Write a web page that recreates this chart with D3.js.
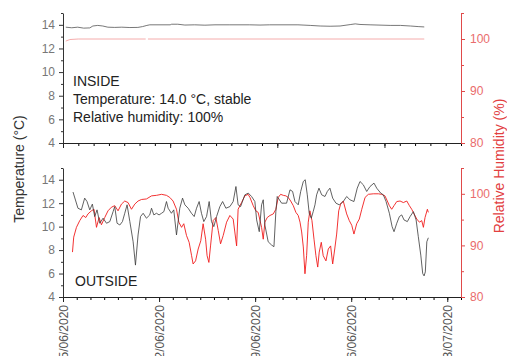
<!DOCTYPE html>
<html>
<head>
<meta charset="utf-8">
<script src="https://cdn.jsdelivr.net/npm/d3@7"></script>
<style>
  body { margin: 0; background: #fff; }
  svg { display: block; font-family: "Liberation Sans", Arial, sans-serif; }
</style>
</head>
<body>
<svg id="chart" width="507" height="356"></svg>
<script>
// tick labels
const dateTicks = ["05/06/2020", "12/06/2020", "19/06/2020", "26/06/2020", "03/07/2020"]
const tempTicks = [4, 6, 8, 10, 12, 14]
const rhTicks = [80, 90, 100]
const tempDomain = [4, 15]
const rhDomain = [80, 105]

// inside logger (own time axis, no labels)
const insideStart = "09/06/2020", insideEnd = "05/07/2020"
const insideDays = [0.18, 0.57, 0.96, 1.35, 1.75, 1.95, 2.27, 2.6, 2.93, 3.38,
    3.84, 4.37, 4.89, 5.2, 5.48, 5.67, 7.0, 7.1, 7.5, 7.96,
    8.6, 9.27, 9.93, 10.9, 12.2, 12.87, 13.5, 15.35, 16.15, 16.8,
    17.45, 18.1, 18.76, 19.09, 19.4, 20.06, 21.37, 22.04, 22.7, 23.2, 23.6]
const insideTemp = [13.8, 13.75, 13.8, 13.72, 13.74, 13.9, 13.95, 13.9, 13.8, 13.78,
    13.8, 13.77, 13.78, 13.85, 13.95, 14.0, 14.0, 14.05, 14.05, 13.98,
    14.0, 13.97, 14.0, 14.0, 14.0, 13.98, 14.0, 14.0, 13.95, 13.9,
    13.88, 13.9, 14.02, 14.08, 14.03, 14.0, 13.95, 13.95, 13.9, 13.85, 13.82]
const insideRhDays = [0.18, 0.45, 1.0, 5.4, 5.45, 5.55, 23.6]
const insideRh = [99.6, 99.9, 100, 100, null, 100, 100]

// outside logger
const outsideStart = "05/06/2020", outsideEnd = "04/07/2020"
const outTempDays = [0.73, 1.09, 1.34, 1.58, 1.75, 1.95, 2.14, 2.31, 2.48, 2.68,
    2.92, 3.17, 3.41, 3.65, 3.77, 3.94, 4.14, 4.33, 4.5, 4.67,
    4.87, 5.11, 5.28, 5.47, 5.65, 5.84, 6.08, 6.32, 6.45, 6.62,
    6.81, 7.0, 7.18, 7.35, 7.54, 7.66, 7.9, 8.07, 8.27, 8.51,
    8.71, 8.88, 9.12, 9.36, 9.56, 9.73, 9.92, 10.09, 10.26, 10.46,
    10.65, 10.82, 10.99, 11.19, 11.43, 11.63, 11.87, 12.16, 12.4, 12.6,
    12.76, 12.94, 13.25, 13.5, 13.74, 13.98, 14.11, 14.3, 14.47, 14.59,
    14.71, 14.95, 15.2, 15.37, 15.51, 15.61, 15.93, 16.29, 16.54, 16.73,
    16.9, 17.14, 17.32, 17.51, 17.65, 17.8, 17.94, 18.09, 18.23, 18.36,
    18.48, 18.65, 18.85, 19.09, 19.26, 19.45, 19.65, 19.89, 20.13, 20.42,
    20.67, 20.91, 21.2, 21.44, 21.64, 21.88, 22.13, 22.37, 22.66, 22.86,
    23.15, 23.34, 23.54, 23.78, 23.98, 24.12, 24.32, 24.51, 24.68, 24.85,
    25.09, 25.29, 25.53, 25.73, 25.89, 26.07, 26.21, 26.31, 26.4, 26.51, 26.62]
const outTemp = [12.95, 11.57, 11.43, 12.43, 12.14, 11.43, 11.92, 10.86, 11.43, 10.29,
    10.72, 10.29, 10.43, 11.28, 11.71, 10.29, 10.14, 10.43, 11.14, 11.86,
    10.43, 8.71, 6.72, 9.29, 10.86, 11.14, 10.72, 11.0, 11.57, 11.0,
    11.14, 11.0, 11.14, 11.28, 12.14, 11.57, 11.14, 11.43, 9.29, 11.57,
    12.43, 11.86, 11.57, 11.14, 10.86, 11.57, 12.14, 11.14, 10.43, 10.86,
    12.14, 10.43, 10.0, 10.86, 11.71, 12.14, 11.57, 11.71, 12.14, 13.42,
    11.86, 11.71, 12.71, 12.86, 12.57, 12.14, 10.57, 9.57, 11.86, 12.29,
    10.14, 8.71, 8.43, 8.29, 11.28, 12.57, 12.0, 12.0, 13.14, 13.0,
    12.14, 11.86, 13.0, 13.85, 14.0, 12.71, 11.14, 10.72, 11.28, 11.86,
    12.71, 13.28, 12.71, 12.57, 13.0, 13.28, 12.43, 12.0, 11.86, 12.14,
    12.57, 12.29, 12.14, 13.28, 13.85, 13.57, 13.0, 13.42, 13.71, 13.28,
    12.86, 12.71, 12.14, 11.14, 10.0, 9.57, 10.29, 10.86, 11.0, 10.57,
    10.43, 10.86, 11.28, 10.57, 9.14, 7.57, 6.0, 5.8, 6.14, 8.71, 9.05]
const outRhDays = [0.69, 0.78, 0.98, 1.22, 1.46, 1.66, 1.82, 2.07, 2.26, 2.44,
    2.63, 2.8, 3.04, 3.28, 3.53, 3.77, 4.01, 4.26, 4.5, 4.74,
    4.99, 5.23, 5.47, 5.72, 6.08, 6.45, 6.81, 7.18, 7.54, 7.78,
    8.02, 8.27, 8.44, 8.64, 8.8, 9.0, 9.19, 9.37, 9.48, 9.66,
    9.85, 10.04, 10.21, 10.39, 10.5, 10.63, 10.75, 10.94, 11.14, 11.31,
    11.48, 11.67, 11.92, 12.16, 12.4, 12.52, 12.65, 12.76, 13.01, 13.25,
    13.49, 13.62, 13.86, 14.05, 14.22, 14.47, 14.59, 14.71, 14.88, 15.08,
    15.32, 15.51, 15.68, 15.86, 16.05, 16.24, 16.41, 16.59, 16.78, 16.97,
    17.14, 17.27, 17.39, 17.51, 17.63, 17.75, 17.87, 17.99, 18.14, 18.29,
    18.43, 18.56, 18.67, 18.82, 18.96, 19.16, 19.33, 19.5, 19.65, 19.8,
    19.94, 20.09, 20.23, 20.42, 20.67, 20.86, 21.04, 21.2, 21.4, 21.59,
    21.77, 22.01, 22.25, 22.61, 22.98, 23.22, 23.46, 23.63, 23.78, 23.95,
    24.12, 24.32, 24.56, 24.8, 25.05, 25.24, 25.41, 25.58, 25.78, 25.97,
    26.14, 26.26, 26.38, 26.55, 26.62]
const outRh = [88.7, 91.6, 93.5, 94.8, 95.8, 95.4, 96.1, 96.7, 97.0, 93.5,
    95.4, 94.0, 95.4, 96.7, 97.4, 97.7, 96.7, 98.0, 98.6, 98.3,
    97.0, 98.0, 98.6, 98.9, 99.0, 99.6, 99.7, 99.9, 99.7, 99.3,
    98.6, 97.0, 94.5, 93.5, 94.2, 91.9, 90.6, 88.0, 86.4, 87.0,
    89.3, 90.9, 94.2, 91.2, 88.0, 86.7, 89.9, 94.8, 95.4, 92.9,
    90.3, 91.9, 94.5, 95.8, 95.1, 92.6, 89.9, 97.0, 98.3, 99.6,
    99.9, 99.3, 97.7, 96.7, 96.4, 93.5, 91.2, 94.5, 95.4, 95.8,
    96.1, 97.0, 99.3, 99.9, 99.7, 99.6, 99.3, 98.6, 97.7, 96.4,
    95.8, 94.5, 92.6, 89.7, 84.5, 88.0, 94.5, 96.7, 94.8, 91.2,
    88.0, 85.8, 88.7, 90.6, 88.0, 87.0, 89.3, 89.9, 86.4, 89.3,
    92.2, 96.7, 98.0, 98.6, 96.1, 94.8, 93.9, 92.2, 94.2, 95.1,
    97.0, 99.3, 99.9, 100.0, 100.0, 99.9, 99.6, 98.6, 97.7, 97.0,
    97.7, 98.5, 98.6, 98.3, 98.6, 97.7, 97.0, 96.1, 95.1, 94.5,
    94.8, 93.5, 95.4, 97.0, 96.4]

const parseDate = d3.timeParse("%d/%m/%Y")
const formatDate = d3.timeFormat("%d/%m/%Y")
const left = 63, right = 461

const svg = d3.select("#chart")

function toPoints(start, days, values) {
    const t0 = parseDate(start).getTime()
    return days.map((d, i) => ({t: new Date(t0 + d * 864e5), v: values[i]}))
}

function drawPanel(p) {
    const g = svg.append("g")
    const x = d3.scaleTime()
        .domain([parseDate(p.start), parseDate(p.end)])
        .range([left, right])
    const yT = d3.scaleLinear().domain(tempDomain).range([p.bottom, p.top])
    const yR = d3.scaleLinear().domain(rhDomain).range([p.bottom, p.top])

    // data lines, red first so black sits on top
    const line = y => d3.line()
        .defined(d => d.v != null)
        .x(d => x(d.t))
        .y(d => y(d.v))

    g.append("path")
        .datum(toPoints(p.start, p.rhDays, p.rh))
        .attr("fill", "none")
        .attr("stroke", p.rhColor)
        .attr("stroke-width", 0.9)
        .attr("stroke-linejoin", "round")
        .attr("d", line(yR))

    g.append("path")
        .datum(toPoints(p.start, p.tempDays, p.temp))
        .attr("fill", "none")
        .attr("stroke", p.tempColor)
        .attr("stroke-width", 0.8)
        .attr("stroke-linejoin", "round")
        .attr("d", line(yT))

    // x axis: daily minor ticks, weekly majors
    const days = d3.timeDay.range(x.domain()[0], d3.timeDay.offset(x.domain()[1], 1))
    const majors = p.majors || days.filter((d, i) => i % 7 === 0)
    g.append("g")
        .attr("transform", `translate(0,${p.bottom})`)
        .call(d3.axisBottom(x).tickValues(days).tickSize(3).tickFormat(""))
        .call(a => a.select(".domain").remove())
    const xAxis = g.append("g")
        .attr("transform", `translate(0,${p.bottom})`)
        .call(d3.axisBottom(x).tickValues(majors).tickSize(5).tickSizeOuter(0)
            .tickFormat(p.showDates ? formatDate : ""))
    xAxis.selectAll("path, line").attr("stroke", "#222")
    xAxis.selectAll("text")
        .attr("transform", "rotate(-90)")
        .attr("x", -8)
        .attr("y", 0)
        .attr("dy", "0.35em")
        .attr("text-anchor", "end")
        .attr("font-size", 12)
        .attr("fill", "#555")

    // left temperature axis
    g.append("g")
        .attr("transform", `translate(${left},0)`)
        .call(d3.axisLeft(yT).tickValues(d3.range(5, 16, 2)).tickSize(2).tickFormat(""))
        .call(a => a.select(".domain").remove())
        .selectAll("line").attr("stroke", "#333")
    const yAxis = g.append("g")
        .attr("transform", `translate(${left},0)`)
        .call(d3.axisLeft(yT).tickValues(tempTicks).tickSize(4).tickSizeOuter(0)
            .tickPadding(4).tickFormat(d3.format("d")))
    yAxis.selectAll("path, line").attr("stroke", "#333")
    yAxis.selectAll("text").attr("font-size", 12).attr("fill", "#777")

    // right humidity axis
    g.append("g")
        .attr("transform", `translate(${right},0)`)
        .call(d3.axisRight(yR).tickValues([85, 95, 105]).tickSize(3).tickFormat(""))
        .call(a => a.select(".domain").remove())
        .selectAll("line").attr("stroke", "#e04a4a")
    const rAxis = g.append("g")
        .attr("transform", `translate(${right},0)`)
        .call(d3.axisRight(yR).tickValues(rhTicks).tickSize(4).tickSizeOuter(0)
            .tickPadding(5).tickFormat(d3.format("d")))
    rAxis.selectAll("path, line").attr("stroke", "#e04a4a")
    rAxis.selectAll("text").attr("font-size", 12).attr("fill", "#ea6c6c")

    // panel notes
    const note = g.append("text")
        .attr("font-size", 14)
        .attr("fill", "#222")
    p.notes.forEach((s, i) => {
        note.append("tspan")
            .attr("x", p.noteX)
            .attr("y", p.noteY + i * 18)
            .text(s)
    })
}

drawPanel({
    start: insideStart, end: insideEnd, top: 13, bottom: 143,
    tempDays: insideDays, temp: insideTemp, rhDays: insideRhDays, rh: insideRh,
    tempColor: "#555", rhColor: "#f4a3a3",
    showDates: false,
    notes: ["INSIDE", "Temperature: 14.0 \u00B0C, stable", "Relative humidity: 100%"],
    noteX: 73, noteY: 86
})

drawPanel({
    start: outsideStart, end: outsideEnd, top: 168, bottom: 297,
    tempDays: outTempDays, temp: outTemp, rhDays: outRhDays, rh: outRh,
    tempColor: "#3a3a3a", rhColor: "#f01c1c",
    showDates: true, majors: dateTicks.map(parseDate),
    notes: ["OUTSIDE"],
    noteX: 75, noteY: 286
})

// axis titles
svg.append("text")
    .attr("transform", "translate(24,169) rotate(-90)")
    .attr("text-anchor", "middle")
    .attr("font-size", 14)
    .attr("fill", "#333")
    .text("Temperature (\u00B0C)")

svg.append("text")
    .attr("transform", "translate(504,166) rotate(-90)")
    .attr("text-anchor", "middle")
    .attr("font-size", 14)
    .attr("fill", "#e2403f")
    .text("Relative Humidity (%)")
</script>
</body>
</html>
